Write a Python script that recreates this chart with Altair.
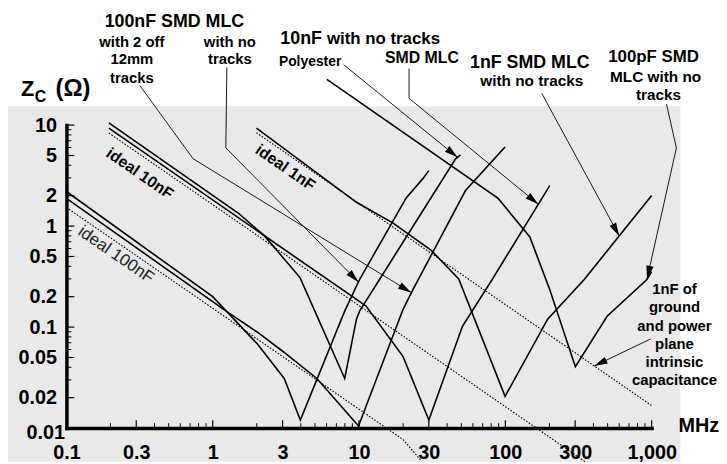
import math
import pandas as pd
import altair as alt

W, H = 591, 306
FONT = "Liberation Sans, Arial, sans-serif"

# ---------------- curves (frequency MHz, impedance ohm) ----------------
c100n_a_f = [0.1, 1, 2.02, 3.08, 3.97, 7.98, 10.08, 21, 27.3, 30]
c100n_a_z = [2.2, 0.2, 0.068, 0.031, 0.012, 0.144, 0.296, 1.9, 2.95, 3.54]

c100n_b_f = [0.1, 1.27, 2.02, 2.99, 5.15, 9.92, 20, 23.4, 53.4, 99.5]
c100n_b_z = [1.88, 0.14, 0.089, 0.058, 0.031, 0.0105, 0.15, 0.236, 2.25, 6.08]

c10n_poly_f = [0.195, 1.5, 2.26, 3.95, 7.98, 9.6, 10.08, 13.8, 45.7, 49.4]
c10n_poly_z = [10.5, 1.34, 0.8, 0.309, 0.031, 0.12, 0.144, 0.296, 4.64, 5.08]

c10n_smd_f = [0.195, 9.6, 11.2, 20, 30, 50.9, 81.3, 201]
c10n_smd_z = [9.35, 0.188, 0.161, 0.051, 0.012, 0.102, 0.296, 2.52]

c1n_f = [1.99, 9.6, 17.1, 31, 48, 99.5, 194.5, 346, 1000]
c1n_z = [9.35, 1.72, 1.07, 0.58, 0.3, 0.0206, 0.12, 0.296, 2.01]

c100p_f = [6.03, 89.3, 147, 201, 301, 496, 928, 1000]
c100p_z = [28.3, 1.88, 0.78, 0.236, 0.0406, 0.128, 0.296, 0.354]

# ideal (dotted) lines
ideal100n_f = [0.1, 20, 26.3]
ideal100n_z = [1.53, 0.0077, 0.00485]
ideal10n_f = [0.195, 350]
ideal10n_z = [8.35, 0.00466]
ideal1n_f = [1.99, 1000]
ideal1n_z = [8.4, 0.0167]

# annotation arrows (start ... tip)
arrow_pts = {
    "a1": ([0.317, 0.735, 22.7], [24.7, 4.64, 0.22]),
    "a2": ([1.249, 1.229, 9.9], [37.1, 5.95, 0.28]),
    "a3": ([7.85, 47.1], [39.6, 4.8]),
    "a4": ([21.97, 21.97, 168], [36.2, 18.4, 1.65]),
    "a5": ([177.4, 600], [20.6, 0.8]),
    "a6": ([1263, 1476, 930], [16.1, 5.95, 0.30]),
    "a7": ([984, 405], [0.0763, 0.0412]),
}

# ticks
x_labels = [0.1, 0.3, 1, 3, 10, 30, 100, 300, 1000]
x_major_ticks = [0.3, 1, 3, 10, 30, 100, 300, 1000]
x_minor_ticks = [0.2, 0.4, 0.5, 0.6, 0.7, 0.8, 0.9, 2, 4, 5, 6, 7, 8, 9,
                 20, 40, 50, 60, 70, 80, 90, 200, 400, 500, 600, 700, 800, 900]
y_labels = [0.01, 0.02, 0.05, 0.1, 0.2, 0.5, 1, 2, 5, 10]
y_major_ticks = [0.02, 0.05, 0.1, 0.2, 0.5, 1, 2, 5, 10]
y_minor_ticks = [0.03, 0.04, 0.06, 0.07, 0.08, 0.09, 0.3, 0.4, 0.6, 0.7, 0.8, 0.9,
                 3, 4, 6, 7, 8, 9]

# centred bold labels
lab_c_text = ["100nF SMD MLC", "with 2 off", "12mm", "tracks", "with no", "tracks",
              "Polyester", "SMD MLC", "1nF SMD MLC", "with no tracks",
              "100pF SMD", "MLC with no", "tracks",
              "1nF of", "ground", "and power", "plane", "intrinsic", "capacitance"]
lab_c_f = [0.547, 0.28, 0.28, 0.28, 1.309, 1.309,
           4.63, 26.9, 147, 151.7,
           1031, 1064, 1114,
           1432, 1432, 1432, 1432, 1432, 1432]
lab_c_z = [104.6, 66.6, 45.4, 28.9, 66.6, 45.4,
           42.4, 46.4, 41.5, 27.6,
           47.4, 30.2, 19.7,
           0.236, 0.157, 0.102, 0.068, 0.0454, 0.0296]
lab_c_size = [18, 15, 15, 15, 15, 15,
              14, 16, 18, 15.5,
              17, 15.5, 15.5,
              15, 15, 15, 15, 15, 15]

# left aligned bold labels
lab_l_text = ["10nF", "with no tracks", "MHz", "Z", "C", "(Ω)"]
lab_l_f = [2.897, 6.03, 1524, 0.0489, 0.0607, 0.0842]
lab_l_z = [71.3, 71.3, 0.0105, 22.5, 18.8, 22.5]
lab_l_size = [18, 17, 20, 22, 16, 24]

# ideal labels (rotated)
ideal_bold_text = ["ideal 10nF", "ideal 1nF"]
ideal_bold_f = [0.317, 3.13]
ideal_bold_z = [3.31, 3.79]
ideal_reg_text = ["ideal 100nF"]
ideal_reg_f = [0.218]
ideal_reg_z = [0.52]

# ---------------- build tables ----------------
def long_df(series):
    rows = []
    for name, (fs, zs) in series.items():
        for i, (f, z) in enumerate(zip(fs, zs)):
            rows.append({"s": name, "i": i, "f": f, "z": z})
    return pd.DataFrame(rows)

solid_df = long_df({
    "100nF a": (c100n_a_f, c100n_a_z),
    "100nF b": (c100n_b_f, c100n_b_z),
    "10nF poly": (c10n_poly_f, c10n_poly_z),
    "10nF smd": (c10n_smd_f, c10n_smd_z),
    "1nF": (c1n_f, c1n_z),
    "100pF": (c100p_f, c100p_z),
})
dotted_df = long_df({
    "i100n": (ideal100n_f, ideal100n_z),
    "i10n": (ideal10n_f, ideal10n_z),
    "i1n": (ideal1n_f, ideal1n_z),
})
arrow_df = long_df(arrow_pts)

def screen_angle(f1, z1, f2, z2):
    dx = (math.log10(f2) - math.log10(f1)) * W / 4
    dy = -(math.log10(z2) - math.log10(z1)) * H / 3
    return math.degrees(math.atan2(dx, -dy)) % 360

head_rows = []
for name, (fs, zs) in arrow_pts.items():
    head_rows.append({"f": fs[-1], "z": zs[-1],
                      "ang": screen_angle(fs[-2], zs[-2], fs[-1], zs[-1])})
head_df = pd.DataFrame(head_rows)

xs = alt.Scale(type="log", domain=[0.1, 1000], nice=False)
ys = alt.Scale(type="log", domain=[0.01, 10], nice=False)

x_axis = alt.Axis(values=x_labels, format=",~g", title=None, grid=False,
                  ticks=False, tickSize=0, labelPadding=15, labelFontSize=20,
                  labelFont=FONT, labelFontWeight="bold", labelColor="black",
                  domainColor="black", domainWidth=3.5, domainCap="square",
                  labelFlush=False, labelOverlap=False, zindex=1)
y_axis = alt.Axis(values=y_labels, format=",~g", title=None, grid=False,
                  ticks=False, tickSize=0,
                  labelPadding={"condition": {"test": "datum.value < 0.015", "value": 2}, "value": 10},
                  labelOffset={"condition": {"test": "datum.value < 0.015", "value": 4}, "value": 0},
                  labelFontSize=20,
                  labelFont=FONT, labelFontWeight="bold", labelColor="black",
                  domainColor="black", domainWidth=3.5, domainCap="square",
                  labelFlush=False, labelOverlap=False, zindex=1)

def X(field="f"):
    return alt.X(f"{field}:Q", scale=xs, axis=x_axis)

def Y(field="z"):
    return alt.Y(f"{field}:Q", scale=ys, axis=y_axis)

bg = alt.Chart(pd.DataFrame({"a": [0]})).mark_rect(color="#e9e9e9").encode(
    x=alt.value(-59), x2=alt.value(620), y=alt.value(-19), y2=alt.value(340))

dotted = alt.Chart(dotted_df).mark_line(color="black", strokeWidth=1.1,
                                        strokeDash=[1.6, 1.6], clip=False).encode(
    x=X(), y=Y(), detail="s:N", order="i:Q")

solid = alt.Chart(solid_df).mark_line(color="black", strokeWidth=1.6, clip=False).encode(
    x=X(), y=Y(), detail="s:N", order="i:Q")

arrows = alt.Chart(arrow_df).mark_line(color="black", strokeWidth=0.9, clip=False).encode(
    x=X(), y=Y(), detail="s:N", order="i:Q")

heads = alt.Chart(head_df).mark_point(shape="M0,0L0.55,2L-0.55,2Z", filled=True,
                                      color="black", opacity=1, size=180,
                                      strokeWidth=0, clip=False).encode(
    x=X(), y=Y(), angle=alt.Angle("ang:Q", scale=None))

xmaj = alt.Chart(pd.DataFrame({"t": x_major_ticks})).mark_rule(color="black", strokeWidth=1.2).encode(
    x=X("t"), y=alt.value(H), y2=alt.value(H - 8))
xmin = alt.Chart(pd.DataFrame({"t": x_minor_ticks})).mark_rule(color="black", strokeWidth=1).encode(
    x=X("t"), y=alt.value(H), y2=alt.value(H - 5))
ymaj = alt.Chart(pd.DataFrame({"t": y_major_ticks})).mark_rule(color="black", strokeWidth=1.2).encode(
    y=Y("t"), x=alt.value(0), x2=alt.value(8))
ymin = alt.Chart(pd.DataFrame({"t": y_minor_ticks})).mark_rule(color="black", strokeWidth=1).encode(
    y=Y("t"), x=alt.value(0), x2=alt.value(5))

lab_c = alt.Chart(pd.DataFrame({"text": lab_c_text, "f": lab_c_f, "z": lab_c_z, "fs": lab_c_size})).mark_text(
    font=FONT, fontWeight="bold", color="black", align="center", baseline="middle", clip=False).encode(
    x=X(), y=Y(), text="text:N", size=alt.Size("fs:Q", scale=None))

lab_l = alt.Chart(pd.DataFrame({"text": lab_l_text, "f": lab_l_f, "z": lab_l_z, "fs": lab_l_size})).mark_text(
    font=FONT, fontWeight="bold", color="black", align="left", baseline="middle", clip=False).encode(
    x=X(), y=Y(), text="text:N", size=alt.Size("fs:Q", scale=None))

ideal_b = alt.Chart(pd.DataFrame({"text": ideal_bold_text, "f": ideal_bold_f, "z": ideal_bold_z})).mark_text(
    font=FONT, fontWeight="bold", color="black", align="center", baseline="middle",
    angle=34.6, fontSize=16, clip=False).encode(x=X(), y=Y(), text="text:N")

ideal_r = alt.Chart(pd.DataFrame({"text": ideal_reg_text, "f": ideal_reg_f, "z": ideal_reg_z})).mark_text(
    font=FONT, fontWeight="normal", color="#222222", align="center", baseline="middle",
    angle=34.6, fontSize=17, clip=False).encode(x=X(), y=Y(), text="text:N")

chart = alt.layer(bg, dotted, solid, arrows, heads, xmaj, xmin, ymaj, ymin,
                  lab_c, lab_l, ideal_b, ideal_r).properties(
    width=W, height=H,
    padding={"left": 59, "top": 116, "right": 68, "bottom": 33},
    autosize=alt.AutoSizeParams(type="none"),
    background="white",
).configure_view(stroke=None)

chart.save("out.html", embed_options={"renderer": "svg", "actions": False})
